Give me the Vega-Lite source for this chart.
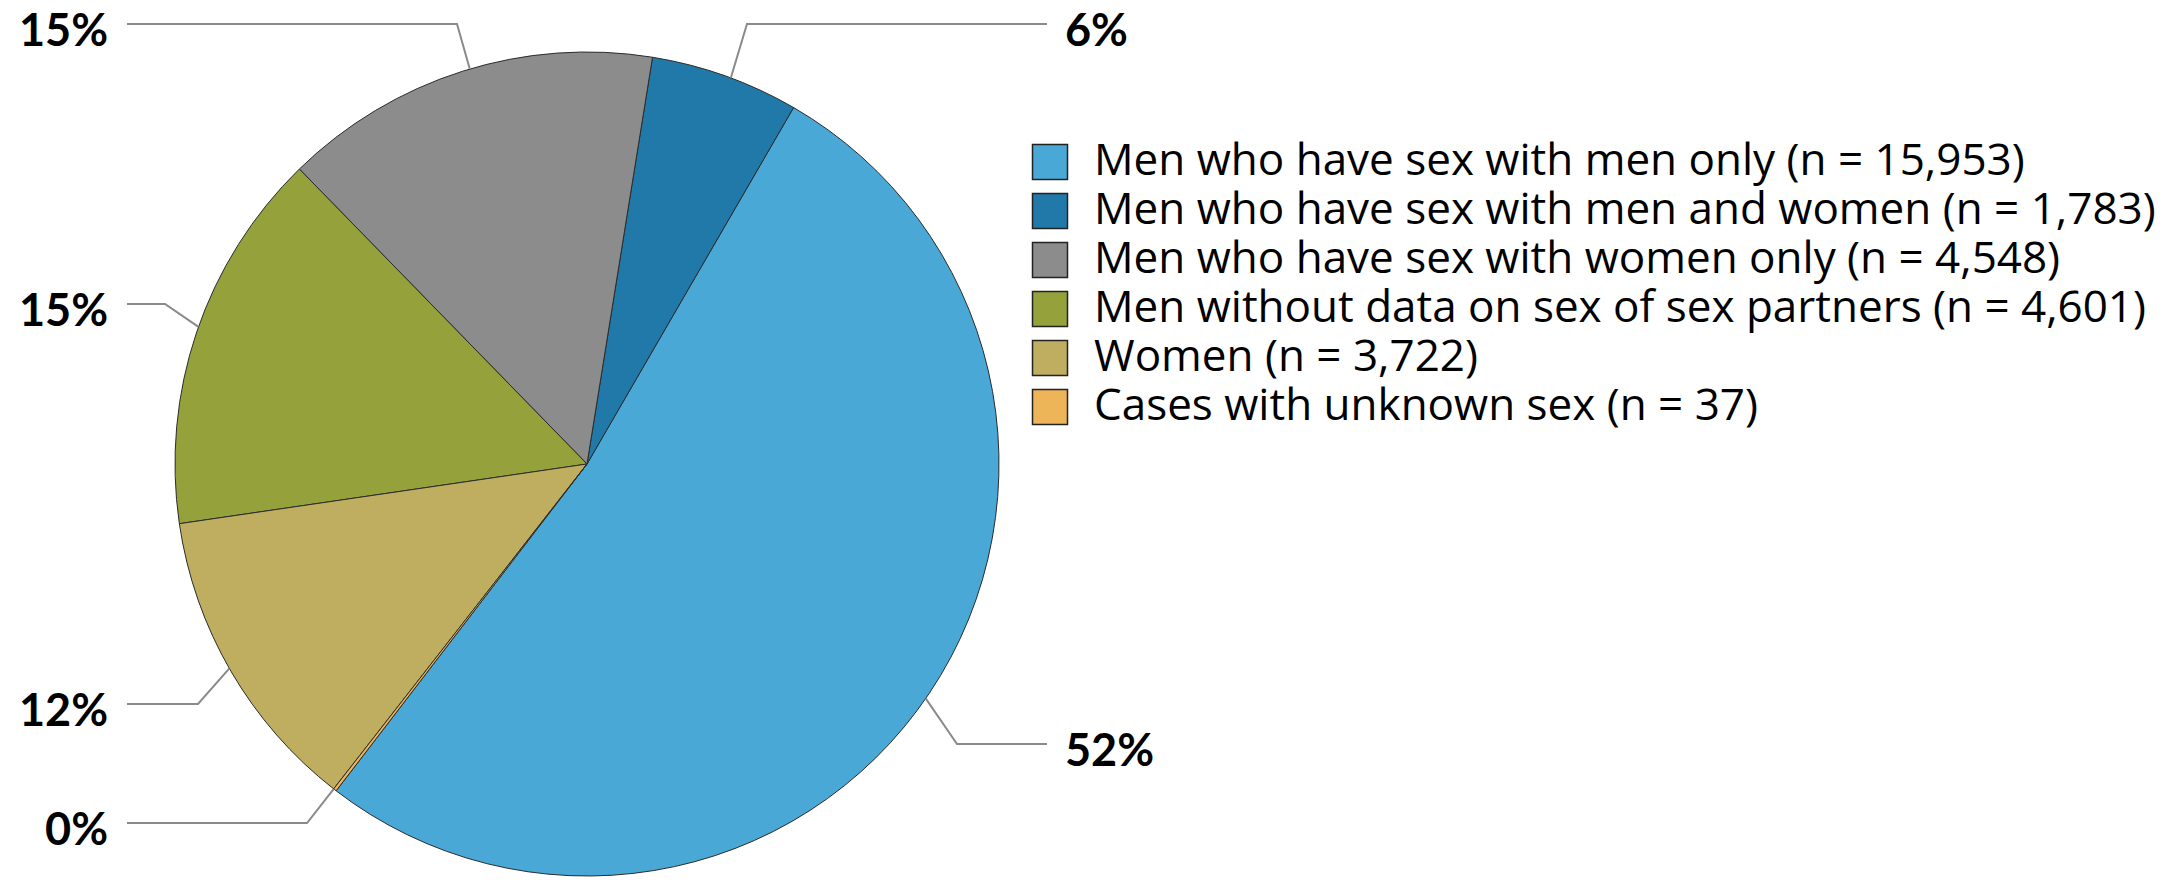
{
  "$schema": "https://vega.github.io/schema/vega-lite/v6.json",
  "width": 2174,
  "height": 886,
  "autosize": {"type": "fit", "contains": "padding"},
  "padding": 0,
  "background": "white",
  "config": {"view": {"stroke": null}},
  "datasets": {
    "groups": [
      {"group": "Men who have sex with men only (n = 15,953)", "n": 15953, "slice": 2},
      {"group": "Men who have sex with men and women (n = 1,783)", "n": 1783, "slice": 1},
      {"group": "Men who have sex with women only (n = 4,548)", "n": 4548, "slice": 6},
      {"group": "Men without data on sex of sex partners (n = 4,601)", "n": 4601, "slice": 5},
      {"group": "Women (n = 3,722)", "n": 3722, "slice": 4},
      {"group": "Cases with unknown sex (n = 37)", "n": 37, "slice": 3}
    ],
    "leaders": [
      {"lead": "msw", "pt": 0, "u": -1.1165, "v": 1.068},
      {"lead": "msw", "pt": 1, "u": -0.3155, "v": 1.068},
      {"lead": "msw", "pt": 2, "u": -0.2847, "v": 0.9593},
      {"lead": "msmw", "pt": 0, "u": 1.1165, "v": 1.068},
      {"lead": "msmw", "pt": 1, "u": 0.3883, "v": 1.068},
      {"lead": "msmw", "pt": 2, "u": 0.349, "v": 0.937},
      {"lead": "nodata", "pt": 0, "u": -1.1165, "v": 0.3883},
      {"lead": "nodata", "pt": 1, "u": -1.0243, "v": 0.3883},
      {"lead": "nodata", "pt": 2, "u": -0.943, "v": 0.333},
      {"lead": "women", "pt": 0, "u": -1.1165, "v": -0.5825},
      {"lead": "women", "pt": 1, "u": -0.9442, "v": -0.5825},
      {"lead": "women", "pt": 2, "u": -0.868, "v": -0.496},
      {"lead": "unknown", "pt": 0, "u": -1.1165, "v": -0.8714},
      {"lead": "unknown", "pt": 1, "u": -0.6796, "v": -0.8714},
      {"lead": "unknown", "pt": 2, "u": -0.615, "v": -0.789},
      {"lead": "msm", "pt": 0, "u": 1.1165, "v": -0.6796},
      {"lead": "msm", "pt": 1, "u": 0.8981, "v": -0.6796},
      {"lead": "msm", "pt": 2, "u": 0.822, "v": -0.569}
    ],
    "labels": [
      {"label": "15%", "side": "left", "u": -1.1626, "v": 1.068},
      {"label": "6%", "side": "right", "u": 1.1602, "v": 1.068},
      {"label": "15%", "side": "left", "u": -1.1626, "v": 0.3883},
      {"label": "12%", "side": "left", "u": -1.1626, "v": -0.5825},
      {"label": "0%", "side": "left", "u": -1.1626, "v": -0.8714},
      {"label": "52%", "side": "right", "u": 1.1602, "v": -0.6796}
    ]
  },
  "layer": [
    {
      "data": {"name": "groups"},
      "mark": {"type": "arc", "outerRadius": 412, "stroke": "#2b2b2b", "strokeWidth": 1},
      "encoding": {
        "x": {"datum": 0, "type": "quantitative", "scale": {"domain": [-1.42476, 3.85194], "nice": false, "zero": false}, "axis": null},
        "y": {"datum": 0, "type": "quantitative", "scale": {"domain": [-1.02427, 1.12621], "nice": false, "zero": false}, "axis": null},
        "theta": {"field": "n", "type": "quantitative", "stack": true, "scale": {"range": [0.1597, 6.4429]}},
        "order": {"field": "slice", "type": "quantitative"},
        "color": {
          "field": "group",
          "type": "nominal",
          "scale": {
            "domain": [
              "Men who have sex with men only (n = 15,953)",
              "Men who have sex with men and women (n = 1,783)",
              "Men who have sex with women only (n = 4,548)",
              "Men without data on sex of sex partners (n = 4,601)",
              "Women (n = 3,722)",
              "Cases with unknown sex (n = 37)"
            ],
            "range": ["#4aa8d7", "#2179aa", "#8c8c8c", "#95a13b", "#bfae60", "#edb458"]
          },
          "legend": {
            "title": null,
            "orient": "none",
            "legendX": 1028,
            "legendY": 140,
            "padding": 0,
            "symbolType": "square",
            "symbolSize": 1225,
            "symbolStrokeColor": "#222222",
            "symbolStrokeWidth": 1.5,
            "symbolOpacity": 1,
            "labelFont": "Open Sans",
            "labelFontSize": 44,
            "labelColor": "#000000",
            "labelLimit": 1400,
            "labelOffset": 22,
            "rowPadding": 5
          }
        }
      }
    },
    {
      "data": {"name": "leaders"},
      "mark": {"type": "line", "stroke": "#8a8a8a", "strokeWidth": 2},
      "encoding": {
        "x": {"field": "u", "type": "quantitative", "scale": {"domain": [-1.42476, 3.85194], "nice": false, "zero": false}, "axis": null},
        "y": {"field": "v", "type": "quantitative", "scale": {"domain": [-1.02427, 1.12621], "nice": false, "zero": false}, "axis": null},
        "detail": {"field": "lead", "type": "nominal"},
        "order": {"field": "pt", "type": "quantitative"}
      }
    },
    {
      "data": {"name": "labels"},
      "transform": [{"filter": "datum.side === 'left'"}],
      "mark": {"type": "text", "align": "right", "baseline": "alphabetic", "dy": 22, "font": "Lato", "fontWeight": "bold", "fontSize": 45, "color": "#000000"},
      "encoding": {
        "x": {"field": "u", "type": "quantitative", "axis": null},
        "y": {"field": "v", "type": "quantitative", "axis": null},
        "text": {"field": "label", "type": "nominal"}
      }
    },
    {
      "data": {"name": "labels"},
      "transform": [{"filter": "datum.side === 'right'"}],
      "mark": {"type": "text", "align": "left", "baseline": "alphabetic", "dy": 22, "font": "Lato", "fontWeight": "bold", "fontSize": 45, "color": "#000000"},
      "encoding": {
        "x": {"field": "u", "type": "quantitative", "axis": null},
        "y": {"field": "v", "type": "quantitative", "axis": null},
        "text": {"field": "label", "type": "nominal"}
      }
    }
  ]
}
